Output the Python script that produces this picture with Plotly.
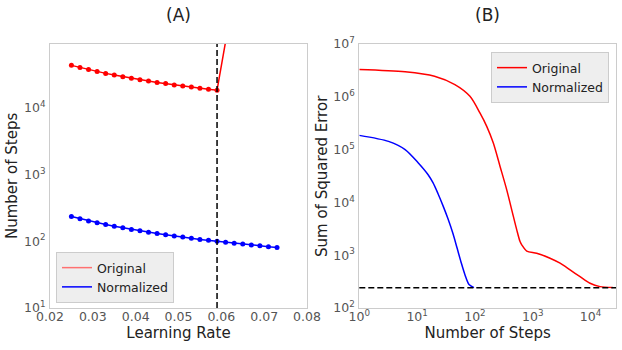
import math
import plotly.graph_objects as go

# ---------------- Data: panel (A) ----------------
lr_original = [0.025, 0.027, 0.029, 0.031, 0.033, 0.035, 0.037, 0.039, 0.041, 0.043,
               0.045, 0.047, 0.049, 0.051, 0.053, 0.055, 0.057, 0.059, 0.061]
steps_original = [43800, 40600, 37800, 35300, 33200, 31300, 29600, 28100, 26700, 25500,
                  24300, 23300, 22300, 21500, 20700, 19900, 19200, 18600, 100000]
lr_normalized = [0.025, 0.027, 0.029, 0.031, 0.033, 0.035, 0.037, 0.039, 0.041, 0.043,
                 0.045, 0.047, 0.049, 0.051, 0.053, 0.055, 0.057, 0.059, 0.061, 0.063,
                 0.065, 0.067, 0.069, 0.071, 0.073]
steps_normalized = [236, 219, 203, 190, 179, 169, 160, 151, 144, 137,
                    131, 126, 120, 116, 111, 107, 104, 100, 97, 94,
                    91, 88, 86, 83, 81]
lr_threshold = 0.059

# ---------------- Data: panel (B) ----------------
iter_original = [1, 6.2, 20, 45, 82, 122, 160, 208, 272, 355, 433, 529, 603, 645,
                 788, 1170, 1990, 2970, 4420, 6580, 9800, 14600, 24200]
sse_original = [3.28e6, 2.97e6, 2.45e6, 1.70e6, 1.02e6, 4.94e5, 2.75e5, 1.33e5, 4.80e4,
                1.73e4, 7.24e3, 3.02e3, 1.81e3, 1.57e3, 1.20e3, 1.09e3, 877, 705, 526,
                393, 294, 254, 244]
iter_normalized = [1, 3.2, 6.2, 10.4, 15.5, 18.8, 23, 28.1, 34.2, 41.8, 49, 57.4, 67.4, 79, 96.4]
sse_normalized = [1.86e5, 1.43e5, 1.0e5, 5.64e4, 3.34e4, 2.36e4, 1.46e4, 8.6e3, 4.89e3,
                  2.54e3, 1.38e3, 746, 423, 279, 243]
sse_minimum = 243

series_names = ["Original", "Normalized"]
panel_titles = ["(A)", "(B)"]
xticks_a = [0.02, 0.03, 0.04, 0.05, 0.06, 0.07, 0.08]
yticks_a = [10, 100, 1000, 10000]
xticks_b = [1, 10, 100, 1000, 10000]
yticks_b = [1e2, 1e3, 1e4, 1e5, 1e6, 1e7]


def pow_label(v):
    return "10<sup>%d</sup>" % round(math.log10(v))


FONT = "DejaVu Sans"
RED = "#ff0000"
BLUE = "#0000ff"
TICK_C = "#555555"
TITLE_C = "#222222"

W, H = 622, 350
ML, MR, MT, MB = 50, 6, 44, 42
PW, PH = W - ML - MR, H - MT - MB


def px_x(p):
    return min(1.0, max(0.0, (p - ML) / PW))


def px_y(p):
    return (H - MB - p) / PH


fig = go.Figure()

# Panel A
fig.add_trace(go.Scatter(x=lr_original, y=steps_original, mode="lines+markers",
                         line=dict(color=RED, width=1.5), marker=dict(color=RED, size=5),
                         showlegend=False, xaxis="x", yaxis="y"))
fig.add_trace(go.Scatter(x=lr_normalized, y=steps_normalized, mode="lines+markers",
                         line=dict(color=BLUE, width=1.5), marker=dict(color=BLUE, size=5),
                         showlegend=False, xaxis="x", yaxis="y"))
# legend entries for panel A
fig.add_trace(go.Scatter(x=[None], y=[None], mode="lines", name=series_names[0],
                         line=dict(color="#ff7070", width=1.5), legend="legend",
                         xaxis="x", yaxis="y"))
fig.add_trace(go.Scatter(x=[None], y=[None], mode="lines", name=series_names[1],
                         line=dict(color=BLUE, width=1.5), legend="legend",
                         xaxis="x", yaxis="y"))

# Panel B
fig.add_trace(go.Scatter(x=iter_original, y=sse_original, mode="lines", name=series_names[0],
                         line=dict(color=RED, width=1.5, shape="spline", smoothing=0.8),
                         legend="legend2", xaxis="x2", yaxis="y2"))
fig.add_trace(go.Scatter(x=iter_normalized, y=sse_normalized, mode="lines", name=series_names[1],
                         line=dict(color=BLUE, width=1.5, shape="spline", smoothing=0.8),
                         legend="legend2", xaxis="x2", yaxis="y2"))

fig.add_shape(type="line", xref="x", yref="y domain", x0=lr_threshold, x1=lr_threshold,
              y0=0, y1=1, line=dict(color="black", width=1.5, dash="6px,3px"))
fig.add_shape(type="line", xref="x2 domain", yref="y2", x0=0, x1=1,
              y0=sse_minimum, y1=sse_minimum, line=dict(color="black", width=1.5, dash="6px,3px"))

axis_common = dict(showline=True, mirror=True, linecolor="#cccccc", linewidth=1,
                   showgrid=False, zeroline=False, ticks="", automargin=False,
                   tickfont=dict(family=FONT, size=12.5, color=TICK_C))
title_font = dict(family=FONT, size=15, color=TITLE_C)

fig.update_layout(
    width=W, height=H,
    margin=dict(l=ML, r=MR, t=MT, b=MB),
    paper_bgcolor="white", plot_bgcolor="white",
    font=dict(family=FONT),
    xaxis=dict(domain=[px_x(50), px_x(307)], range=[0.02, 0.08], tickvals=xticks_a,
               ticktext=["%.2f" % v for v in xticks_a], anchor="y", ticklabelstandoff=-3,
               title=dict(text="Learning Rate", font=title_font, standoff=0), **axis_common),
    yaxis=dict(domain=[0, 1], type="log", range=[1, 4.962], tickvals=yticks_a,
               ticktext=[pow_label(v) for v in yticks_a], anchor="x", ticklabelstandoff=1,
               **axis_common),
    xaxis2=dict(domain=[px_x(359.3), px_x(616)], type="log", range=[0, 4.44], tickvals=xticks_b,
                ticktext=[pow_label(v) for v in xticks_b], anchor="y2", ticklabelstandoff=-3,
                title=dict(text="Number of Steps", font=title_font, standoff=0), **axis_common),
    yaxis2=dict(domain=[0, 1], type="log", range=[2, 7], tickvals=yticks_b,
                ticktext=[pow_label(v) for v in yticks_b], anchor="x2", ticklabelstandoff=1,
                **axis_common),
    legend=dict(x=px_x(56), y=px_y(303), xanchor="left", yanchor="bottom",
                bgcolor="#eeeeee", bordercolor="#cccccc", borderwidth=1,
                font=dict(family=FONT, size=12.5, color="#222222"), tracegroupgap=0),
    legend2=dict(x=px_x(609), y=px_y(52), xanchor="right", yanchor="top",
                 bgcolor="#eeeeee", bordercolor="#cccccc", borderwidth=1,
                 font=dict(family=FONT, size=12.5, color="#222222"), tracegroupgap=0),
    annotations=[
        dict(text=panel_titles[0], xref="paper", yref="paper", x=px_x(178.2), y=px_y(15),
             showarrow=False, xanchor="center", yanchor="middle",
             font=dict(family=FONT, size=17, color="#222222")),
        dict(text=panel_titles[1], xref="paper", yref="paper", x=px_x(487.7), y=px_y(15),
             showarrow=False, xanchor="center", yanchor="middle",
             font=dict(family=FONT, size=17, color="#222222")),
        dict(text="Number of Steps", xref="paper", yref="paper", x=-(ML - 12) / PW, y=px_y(176),
             showarrow=False, xanchor="center", yanchor="middle", textangle=-90,
             font=title_font),
        dict(text="Sum of Squared Error", xref="paper", yref="paper", x=px_x(322), y=px_y(176),
             showarrow=False, xanchor="center", yanchor="middle", textangle=-90,
             font=title_font),
    ],
)

fig.write_html("out.html")
